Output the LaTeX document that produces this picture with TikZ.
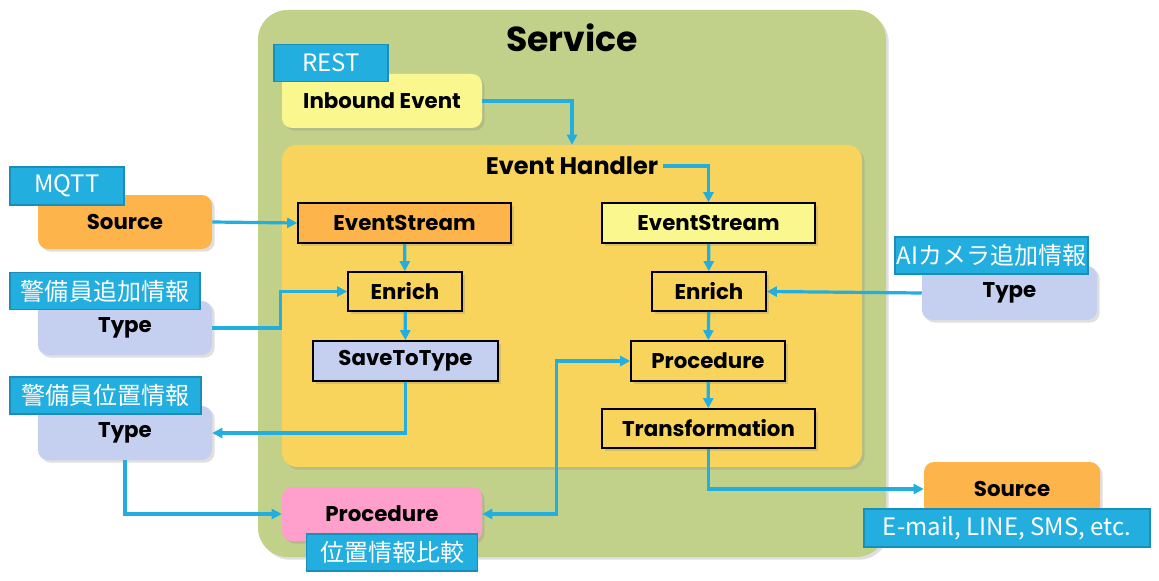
\documentclass[tikz,border=0pt]{standalone}
\usepackage{fontspec}
\setmainfont{Poppins}
\newfontfamily\jpfont{Noto Sans CJK JP}
\usetikzlibrary{arrows.meta, shadows}

\definecolor{servicegreen}{HTML}{C2D18A}
\definecolor{handleryellow}{HTML}{F8D45C}
\definecolor{streamorange}{HTML}{FDB44B}
\definecolor{lightyellow}{HTML}{FAF78E}
\definecolor{typeblue}{HTML}{C5CFF0}
\definecolor{procpink}{HTML}{FF9FCB}
\definecolor{tagblue}{HTML}{22AEDF}
\definecolor{tagborder}{HTML}{1A8DB8}

% sizes are given in pixels of the reference (1px = 0.75pt)
\tikzset{
  boxw/.style = {minimum width=#1*0.75pt},
  boxh/.style = {minimum height=#1*0.75pt},
  box/.style = {boxw=#1, inner sep=0pt, font=\fontsize{16}{19}\selectfont\bfseries},
  shade/.style = {drop shadow={opacity=0.25, shadow xshift=2pt, shadow yshift=-2pt}},
  outer/.style = {box=174, boxh=54, rounded corners=7.5pt, shade},
  inner/.style = {box=#1, boxh=40, draw=black, line width=1.2pt, shade},
  tag/.style = {draw=tagborder, line width=0.8pt, fill=tagblue, text=white, inner sep=0pt,
    boxw=#1, boxh=37, font=\jpfont\fontsize{18}{20}\selectfont},
  flow/.style = {draw=tagblue, line width=2.4pt, -{Triangle[length=7.5pt, width=7.5pt]}},
}

\begin{document}
\begin{tikzpicture}[x=0.75pt, y=-0.75pt]
\useasboundingbox (0,0) rectangle (1159,581);

% service and handler
\node[fill=servicegreen, rounded corners=22pt, boxw=628, boxh=547, shade] (service) at (572,283.5) {};
\node[font=\fontsize{26}{30}\selectfont\bfseries] (servicetitle) at (572,38) {Service};
\node[fill=handleryellow, rounded corners=11pt, boxw=580, boxh=322, shade] (handler) at (572,306) {};
\node[font=\fontsize{18}{22}\selectfont\bfseries] (handlertitle) at (572,166) {Event Handler};

% boxes inside
\node[outer, box=200, fill=lightyellow] (inbound) at (382,101) {Inbound Event};
\node[tag=114] (resttag) at (331,63) {REST};
\node[inner=213, fill=streamorange] (esL) at (404.5,223) {EventStream};
\node[inner=213, fill=lightyellow] (esR) at (708.5,223) {EventStream};
\node[inner=114, boxh=39, fill=handleryellow] (enL) at (405,291.5) {Enrich};
\node[inner=114, boxh=39, fill=handleryellow] (enR) at (709,291.5) {Enrich};
\node[inner=185, fill=typeblue] (save) at (405.5,361) {SaveToType};
\node[inner=154, fill=handleryellow] (procR) at (708,361) {Procedure};
\node[inner=213, boxh=39, fill=handleryellow] (trans) at (708.5,428.5) {Transformation};
\node[outer, box=200, fill=procpink] (procP) at (382,514) {Procedure};
\node[tag=171] (proctag) at (392,552.5) {位置情報比較};

% outside
\node[outer, fill=streamorange] (srcL) at (125,222) {Source};
\node[tag=114, boxh=38] (mqtttag) at (67,186) {MQTT};
\node[outer, fill=typeblue] (type1) at (125,328) {Type};
\node[tag=190] (type1tag) at (105,291) {警備員追加情報};
\node[outer, fill=typeblue] (type2) at (125,433) {Type};
\node[tag=191] (type2tag) at (105.5,395.5) {警備員位置情報};
\node[outer, box=175, fill=typeblue] (typeR) at (1009.5,293) {Type};
\node[tag=193] (typeRtag) at (991.5,255.5) {AIカメラ追加情報};
\node[outer, box=176, fill=streamorange] (srcR) at (1012,489) {Source};
\node[tag=286, boxh=38] (srcRtag) at (1007,528) {E-mail, LINE, SMS, etc.};

% connectors
\draw[flow] (inbound.east) -| (handler.north);
\draw[flow] (handlertitle.east) -| (esR.north);
\draw[flow] (srcL.east) -- (esL.west);
\draw[flow] (type1.east) -- ++(68,0) |- (enL.west);
\draw[flow] (esL) -- (enL);
\draw[flow] (enL) -- (save);
\draw[flow] (save.south) |- (type2.east);
\draw[flow] (type2.south) |- (procP.west);
\draw[flow] (esR) -- (enR);
\draw[flow] (enR) -- (procR);
\draw[flow] (procR) -- (trans);
\draw[flow] (typeR.west) -- (enR.east);
\draw[flow] (trans.south) |- (srcR.west);
\draw[flow, {Triangle[length=7.5pt, width=7.5pt]}-{Triangle[length=7.5pt, width=7.5pt]}] (procP.east) -- ++(74,0) |- (procR.west);
\end{tikzpicture}
\end{document}
